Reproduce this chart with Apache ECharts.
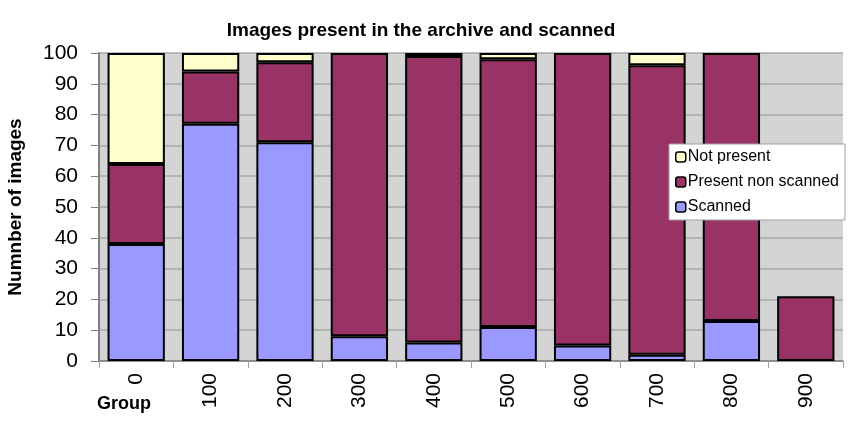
<!DOCTYPE html>
<html>
<head>
<meta charset="utf-8">
<script src="https://cdn.jsdelivr.net/npm/echarts@6/dist/echarts.min.js"></script>
<style>html,body{margin:0;padding:0;background:#fff}#c{width:850px;height:427px}</style>
</head>
<body>
<div id="c"></div>
<script>
const categories = ['0','100','200','300','400','500','600','700','800','900'];
const scanned = [38, 77, 71, 8, 6, 11, 5, 2, 13, 0];
const presentNonScanned = [26, 17, 26, 92, 93, 87, 95, 94, 87, 21];
const notPresent = [36, 6, 3, 0, 1, 2, 0, 4, 0, 0];
const yTicks = {min: 0, max: 100, interval: 10};

const chart = echarts.init(document.getElementById('c'), null, {renderer: 'canvas'});
const font = 'Liberation Sans, Arial, sans-serif';
const barStyle = c => ({color: c, borderColor: '#000', borderWidth: 2});
const noZero = arr => arr.map(v => v === 0 ? '-' : v);
chart.setOption({
  animation: false,
  backgroundColor: '#fff',
  title: {
    text: 'Images present in the archive and scanned',
    left: 416, top: 16, textAlign: 'center',
    textStyle: {fontFamily: font, fontSize: 19, fontWeight: 'bold', color: '#000'}
  },
  grid: {left: 99, right: 7, top: 53, bottom: 66, show: true, backgroundColor: '#D4D4D4', borderWidth: 0,
         containLabel: false, outerBoundsMode: 'none'},
  legend: {
    data: ['Not present', 'Present non scanned', 'Scanned'],
    orient: 'vertical',
    left: 669, top: 144,
    width: 178,
    padding: [5, 6, 5, 6],
    itemGap: 9,
    itemWidth: 10, itemHeight: 10,
    backgroundColor: '#fff',
    borderColor: '#A0A0A0', borderWidth: 1,
    textStyle: {fontFamily: font, fontSize: 16, color: '#000', padding: [0, 0, 0, -3]},
    itemStyle: {borderColor: '#000', borderWidth: 1.5}
  },
  xAxis: {
    type: 'category',
    data: categories,
    axisLine: {lineStyle: {color: '#808080', width: 1.5}},
    axisTick: {show: true, interval: 0, length: 7, lineStyle: {color: '#A0A0A0'}},
    axisLabel: {rotate: 90, interval: 0, margin: 12, fontFamily: font, fontSize: 21, color: '#000'},
    splitLine: {show: false}
  },
  yAxis: {
    type: 'value',
    min: yTicks.min, max: yTicks.max, interval: yTicks.interval,
    name: 'Numnber of images',
    nameLocation: 'middle', nameGap: 74,
    nameTextStyle: {fontFamily: font, fontSize: 19, fontWeight: 'bold', color: '#000'},
    axisLine: {show: true, lineStyle: {color: '#808080', width: 2}},
    axisTick: {show: true, length: 8, lineStyle: {color: '#808080'}},
    axisLabel: {margin: 21, fontFamily: font, fontSize: 21, color: '#000'},
    splitLine: {lineStyle: {color: '#A8A8A8', width: 1.5}}
  },
  graphic: [{
    type: 'text', left: 97, top: 395,
    style: {text: 'Group', fontFamily: font, fontSize: 18, fontWeight: 'bold', fill: '#000'}
  }],
  series: [
    {name: 'Scanned', type: 'bar', stack: 't', data: noZero(scanned), barCategoryGap: '23%', itemStyle: barStyle('#9999FF')},
    {name: 'Present non scanned', type: 'bar', stack: 't', data: noZero(presentNonScanned), itemStyle: barStyle('#993366')},
    {name: 'Not present', type: 'bar', stack: 't', data: noZero(notPresent), itemStyle: barStyle('#FFFFCC')}
  ]
});
</script>
</body>
</html>
